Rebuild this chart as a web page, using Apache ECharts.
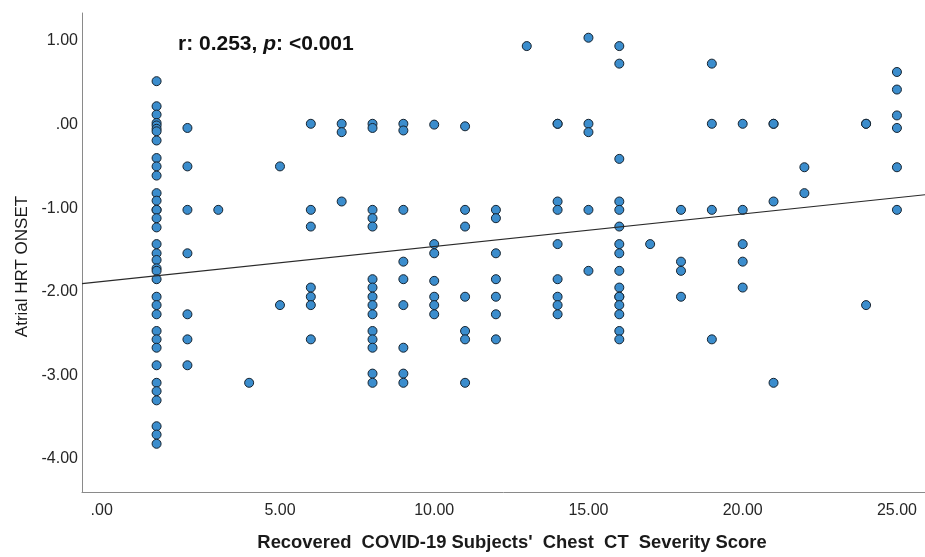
<!DOCTYPE html>
<html>
<head>
<meta charset="utf-8">
<script src="https://cdn.jsdelivr.net/npm/echarts@6/dist/echarts.min.js"></script>
<style>
  html, body { margin: 0; padding: 0; background: #ffffff; }
  #chart { width: 925px; height: 557px; }
</style>
</head>
<body>
<div id="chart"></div>
<script>
// Chest CT severity score of each subject (x) and its atrial HRT onset (y)
const ctScore = [
  1,1,1,1,1,1,1,1,1,1,1,1,1,1,1,1,1,1,1,1,1,1,1,1,1,1,1,1,1,1,1,1,1,1,1,1,
  2,2,2,2,2,2,2,
  3,
  4,
  5,5,
  6,6,6,6,6,6,6,
  7,7,7,
  8,8,8,8,8,8,8,8,8,8,8,8,8,8,8,
  9,9,9,9,9,9,9,9,9,
  10,10,10,10,10,10,10,
  11,11,11,11,11,11,11,
  12,12,12,12,12,12,12,
  13,
  14,14,14,14,14,14,14,14,14,
  15,15,15,15,15,
  16,16,16,16,16,16,16,16,16,16,16,16,16,16,16,16,
  17,
  18,18,18,18,
  19,19,19,19,
  20,20,20,20,20,
  21,21,21,21,
  22,22,
  24,24,24,
  25,25,25,25,25,25
];
const hrtOnset = [
  0.52,0.22,0.12,0.02,-0.01,-0.05,-0.08,-0.19,-0.40,-0.50,-0.61,-0.82,-0.91,-1.02,-1.02,-1.12,-1.23,-1.43,-1.54,-1.62,-1.72,-1.75,-1.85,-2.06,-2.16,-2.27,-2.47,-2.57,-2.67,-2.88,-3.09,-3.19,-3.30,-3.61,-3.71,-3.82,
  -0.04,-0.50,-1.02,-1.54,-2.27,-2.57,-2.88,
  -1.02,
  -3.09,
  -0.50,-2.16,
  0.01,-1.02,-1.22,-1.95,-2.06,-2.16,-2.57,
  0.01,-0.09,-0.92,
  0.01,-0.04,-1.02,-1.12,-1.22,-1.85,-1.95,-2.06,-2.16,-2.27,-2.47,-2.57,-2.67,-2.98,-3.09,
  0.01,-0.07,-1.02,-1.64,-1.85,-2.16,-2.67,-2.98,-3.09,
  0.00,-1.43,-1.54,-1.87,-2.06,-2.16,-2.27,
  -0.02,-1.02,-1.22,-2.06,-2.47,-2.57,-3.09,
  -1.02,-1.12,-1.54,-1.85,-2.06,-2.27,-2.57,
  0.94,
  0.01,0.01,-0.92,-1.02,-1.43,-1.85,-2.06,-2.16,-2.27,
  1.04,0.01,-0.09,-1.02,-1.75,
  0.94,0.73,-0.41,-0.92,-1.02,-1.22,-1.43,-1.54,-1.75,-1.95,-2.06,-2.06,-2.16,-2.27,-2.47,-2.57,
  -1.43,
  -1.02,-1.64,-1.75,-2.06,
  0.73,0.01,-1.02,-2.57,
  0.01,-1.02,-1.43,-1.64,-1.95,
  0.01,0.01,-0.92,-3.09,
  -0.51,-0.82,
  0.01,0.01,-2.16,
  0.63,0.42,0.11,-0.04,-0.51,-1.02
];

// Linear fit line: onset = intercept + slope * score
const fitIntercept = -1.847;
const fitSlope = 0.0389;

// Axis tick labels and visible ranges
const xTicks = [0, 5, 10, 15, 20, 25];
const yTicks = [-4, -3, -2, -1, 0, 1];
const xRange = [-1.418, 25.91];
const yRange = [-4.397, 1.336];

// SPSS-style number format: ".00", "-1.00", "25.00"
const fmt = v => {
  const s = Math.abs(v).toFixed(2).replace(/^0/, '');
  return (v < 0 ? '-' : '') + s;
};

const points = ctScore.map((x, i) => [x, hrtOnset[i]]);
const fitLine = xRange.map(x => [x, fitIntercept + fitSlope * x]);

const FONT = "'Liberation Sans', Arial, sans-serif";

const chart = echarts.init(document.getElementById('chart'), null, { renderer: 'canvas' });
chart.setOption({
  animation: false,
  backgroundColor: '#ffffff',
  grid: { left: 82, right: 0, top: 13, bottom: 59, containLabel: false },
  xAxis: {
    type: 'value',
    min: xRange[0],
    max: xRange[1],
    axisLine: { show: true, onZero: false, lineStyle: { color: '#8a8a8a', width: 1 } },
    axisTick: { show: false },
    splitLine: { show: false },
    axisLabel: {
      customValues: xTicks,
      margin: 11,
      color: '#262626',
      fontFamily: FONT,
      fontSize: 16,
      formatter: v => (Math.abs(v) < 1e-9 ? '{z|' + fmt(v) + '}' : fmt(v)),
      rich: { z: { color: '#262626', fontFamily: FONT, fontSize: 16, padding: [0, 48, 0, 0] } }
    },
    name: 'Recovered  COVID-19 Subjects\'  Chest  CT  Severity Score',
    nameLocation: 'middle',
    nameGap: 42,
    nameTextStyle: { color: '#1a1a1a', fontFamily: FONT, fontSize: 18.4, fontWeight: 'bold', padding: [0, 0, 0, 17] }
  },
  yAxis: {
    type: 'value',
    min: yRange[0],
    max: yRange[1],
    axisLine: { show: true, onZero: false, lineStyle: { color: '#8a8a8a', width: 1 } },
    axisTick: { show: false },
    splitLine: { show: false },
    axisLabel: {
      customValues: yTicks,
      margin: 4,
      color: '#262626',
      fontFamily: FONT,
      fontSize: 16,
      formatter: v => fmt(v)
    },
    name: 'Atrial HRT ONSET',
    nameLocation: 'middle',
    nameRotate: 90,
    nameGap: 50,
    nameTextStyle: { color: '#1a1a1a', fontFamily: FONT, fontSize: 17, padding: [0, 28, 0, 0] }
  },
  graphic: [{
    type: 'text',
    left: 178,
    top: 34,
    style: {
      text: '{b|r: 0.253, }{i|p}{b|: <0.001}',
      rich: {
        b: { fontFamily: FONT, fontSize: 21, fontWeight: 'bold', fill: '#111111' },
        i: { fontFamily: FONT, fontSize: 21, fontWeight: 'bold', fontStyle: 'italic', fill: '#111111' }
      }
    }
  }],
  series: [
    {
      type: 'scatter',
      data: points,
      symbol: 'circle',
      symbolSize: 9,
      itemStyle: { color: '#3b8dcd', borderColor: '#16232f', borderWidth: 1, opacity: 1 },
      z: 3
    },
    {
      type: 'line',
      data: fitLine,
      symbol: 'none',
      lineStyle: { color: '#2a2a2a', width: 1.2 },
      z: 4
    }
  ]
});
</script>
</body>
</html>
